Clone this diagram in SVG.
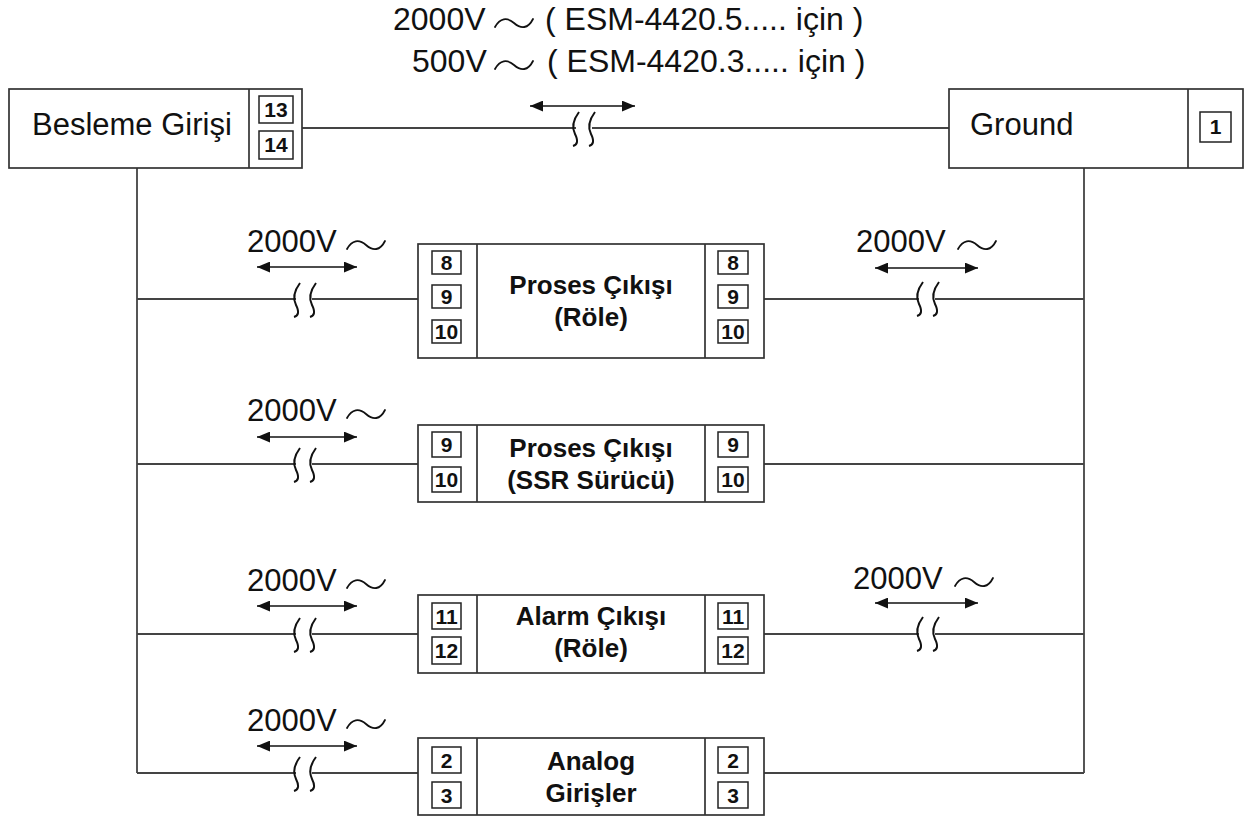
<svg xmlns="http://www.w3.org/2000/svg" xmlns:xlink="http://www.w3.org/1999/xlink" width="1245" height="820" viewBox="0 0 1245 820">
<style>
  .bx { fill: #fff; stroke: #333; stroke-width: 1.7; }
  .tm { fill: #fff; stroke: #222; stroke-width: 1.5; }
  .ln { fill: none; stroke: #444; stroke-width: 1.8; }
  .ar { fill: none; stroke: #111; stroke-width: 1.6; marker-start: url(#ah); marker-end: url(#ah); }
  .sq { fill: none; stroke: #111; stroke-width: 2; }
  .wave { fill: none; stroke: #111; stroke-width: 1.8; stroke-linecap: round; }
  .big { font-family: "Liberation Sans", Arial, sans-serif; font-size: 31px; fill: #111; }
  .top { font-family: "Liberation Sans", Arial, sans-serif; font-size: 32px; fill: #111; }
  .ttl { font-family: "Liberation Sans", Arial, sans-serif; font-size: 26px; font-weight: bold; fill: #111; text-anchor: middle; }
  .num { font-family: "Liberation Sans", Arial, sans-serif; font-size: 21px; font-weight: bold; fill: #111; text-anchor: middle; }
</style>
<defs>
  <marker id="ah" viewBox="0 0 12 10" refX="12" refY="5" markerWidth="13" markerHeight="11" markerUnits="userSpaceOnUse" orient="auto-start-reverse">
    <path d="M0,0 L12,5 L0,10 z" fill="#111"/>
  </marker>
  <path id="brk" class="sq" d="M-5,-16 Q-14,-4 -9,6 T-11,18 M11,-16 Q2,-4 7,6 T5,18"/>
  <path id="ac" class="wave" d="M0,4 C5,-5 12,-6 19,0 S33,6 38,-4"/>
</defs>

<g id="connectors">
  <path class="ln" d="M302,128 H576 M592,128 H949"/>
  <use xlink:href="#brk" x="584" y="128"/>
  <line class="ar" x1="530" y1="106" x2="635" y2="106"/>
  <path class="ln" d="M137,168 V773 M1084,168 V773"/>
  <path class="ln" d="M137,299 H296 M312,299 H418 M764,299 H919 M935,299 H1084"/>
  <use xlink:href="#brk" x="305" y="299"/>
  <use xlink:href="#brk" x="928" y="298"/>
  <line class="ar" x1="257" y1="267" x2="357" y2="267"/>
  <line class="ar" x1="875" y1="268" x2="978" y2="268"/>
  <path class="ln" d="M137,464 H296 M312,464 H418 M764,464 H1084"/>
  <use xlink:href="#brk" x="305" y="464"/>
  <line class="ar" x1="257" y1="437" x2="357" y2="437"/>
  <path class="ln" d="M137,634 H296 M312,634 H418 M764,634 H919 M935,634 H1084"/>
  <use xlink:href="#brk" x="305" y="634"/>
  <use xlink:href="#brk" x="928" y="633"/>
  <line class="ar" x1="257" y1="606" x2="357" y2="606"/>
  <line class="ar" x1="875" y1="603" x2="978" y2="603"/>
  <path class="ln" d="M137,773 H296 M312,773 H418 M764,773 H1084"/>
  <use xlink:href="#brk" x="305" y="773"/>
  <line class="ar" x1="257" y1="746" x2="357" y2="746"/>
</g>

<g id="labels">
  <text class="top"><tspan x="393" y="30">2000V</tspan><tspan x="545" y="30">( ESM-4420.5..... için )</tspan></text>
  <use xlink:href="#ac" x="495" y="23"/>
  <text class="top"><tspan x="412" y="72">500V</tspan><tspan x="547" y="72">( ESM-4420.3..... için )</tspan></text>
  <use xlink:href="#ac" x="495" y="65"/>
  <text class="big" x="247" y="252">2000V</text>
  <use xlink:href="#ac" x="347" y="245"/>
  <text class="big" x="856" y="252">2000V</text>
  <use xlink:href="#ac" x="958" y="245"/>
  <text class="big" x="247" y="421">2000V</text>
  <use xlink:href="#ac" x="347" y="414"/>
  <text class="big" x="247" y="591">2000V</text>
  <use xlink:href="#ac" x="347" y="584"/>
  <text class="big" x="853" y="589">2000V</text>
  <use xlink:href="#ac" x="955" y="582"/>
  <text class="big" x="247" y="731">2000V</text>
  <use xlink:href="#ac" x="347" y="724"/>
</g>

<g id="besleme">
  <rect class="bx" x="9" y="89" width="293" height="79"/>
  <line class="bx" x1="249" y1="89" x2="249" y2="168"/>
  <text class="big" x="32" y="135">Besleme Girişi</text>
  <rect class="tm" x="259" y="96" width="34" height="27"/>
  <rect class="tm" x="259" y="131" width="34" height="28"/>
  <text class="num" x="276" y="117">13</text>
  <text class="num" x="276" y="152">14</text>
</g>

<g id="ground">
  <rect class="bx" x="949" y="89" width="294" height="79"/>
  <line class="bx" x1="1188" y1="89" x2="1188" y2="168"/>
  <text class="big" x="970" y="135">Ground</text>
  <rect class="tm" x="1200" y="112" width="31" height="30"/>
  <text class="num" x="1215.5" y="134">1</text>
</g>

<g id="proses-role">
  <rect class="bx" x="418" y="244" width="346" height="114"/>
  <path class="bx" d="M477,244 V358 M705,244 V358"/>
  <rect class="tm" x="432" y="251" width="29" height="23"/>
  <rect class="tm" x="432" y="285" width="29" height="23"/>
  <rect class="tm" x="432" y="320" width="29" height="23"/>
  <rect class="tm" x="718" y="251" width="30" height="23"/>
  <rect class="tm" x="718" y="285" width="30" height="23"/>
  <rect class="tm" x="718" y="320" width="30" height="23"/>
  <text class="num" x="446.5" y="270">8</text>
  <text class="num" x="446.5" y="304">9</text>
  <text class="num" x="446.5" y="339">10</text>
  <text class="num" x="733" y="270">8</text>
  <text class="num" x="733" y="304">9</text>
  <text class="num" x="733" y="339">10</text>
  <text class="ttl" x="591" y="294">Proses Çıkışı</text>
  <text class="ttl" x="591" y="326">(Röle)</text>
</g>

<g id="proses-ssr">
  <rect class="bx" x="418" y="425" width="346" height="77"/>
  <path class="bx" d="M477,425 V502 M705,425 V502"/>
  <rect class="tm" x="432" y="432" width="29" height="25"/>
  <rect class="tm" x="432" y="467" width="29" height="25"/>
  <rect class="tm" x="718" y="432" width="30" height="25"/>
  <rect class="tm" x="718" y="467" width="30" height="25"/>
  <text class="num" x="446.5" y="452">9</text>
  <text class="num" x="446.5" y="487">10</text>
  <text class="num" x="733" y="452">9</text>
  <text class="num" x="733" y="487">10</text>
  <text class="ttl" x="591" y="457">Proses Çıkışı</text>
  <text class="ttl" x="591" y="489">(SSR Sürücü)</text>
</g>

<g id="alarm">
  <rect class="bx" x="418" y="595" width="346" height="78"/>
  <path class="bx" d="M477,595 V673 M705,595 V673"/>
  <rect class="tm" x="432" y="603" width="29" height="26"/>
  <rect class="tm" x="432" y="637" width="29" height="27"/>
  <rect class="tm" x="718" y="603" width="30" height="26"/>
  <rect class="tm" x="718" y="637" width="30" height="27"/>
  <text class="num" x="446.5" y="624">11</text>
  <text class="num" x="446.5" y="658">12</text>
  <text class="num" x="733" y="624">11</text>
  <text class="num" x="733" y="658">12</text>
  <text class="ttl" x="591" y="625">Alarm Çıkışı</text>
  <text class="ttl" x="591" y="657">(Röle)</text>
</g>

<g id="analog">
  <rect class="bx" x="418" y="738" width="346" height="77"/>
  <path class="bx" d="M477,738 V815 M705,738 V815"/>
  <rect class="tm" x="432" y="747" width="29" height="26"/>
  <rect class="tm" x="432" y="782" width="29" height="26"/>
  <rect class="tm" x="718" y="747" width="30" height="26"/>
  <rect class="tm" x="718" y="782" width="30" height="26"/>
  <text class="num" x="446.5" y="768">2</text>
  <text class="num" x="446.5" y="803">3</text>
  <text class="num" x="733" y="768">2</text>
  <text class="num" x="733" y="803">3</text>
  <text class="ttl" x="591" y="770">Analog</text>
  <text class="ttl" x="591" y="802">Girişler</text>
</g>
</svg>
